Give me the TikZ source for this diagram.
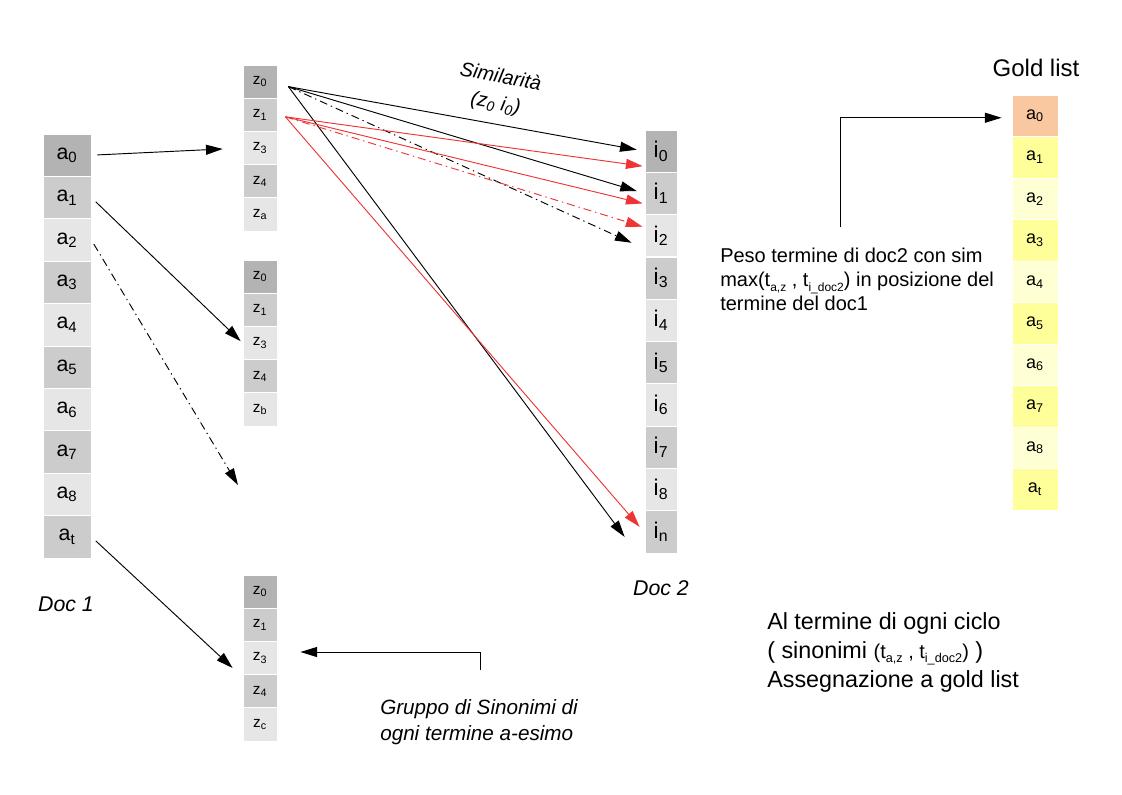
\documentclass[tikz,border=0pt]{standalone}
\usepackage{fontspec}
\setmainfont{Liberation Sans}
\usepackage{xcolor}
\usepackage{tikz}
\usetikzlibrary{arrows.meta}
\definecolor{grigioscuro}{HTML}{B3B3B3}
\definecolor{grigio}{HTML}{CCCCCC}
\definecolor{grigiochiaro}{HTML}{E6E6E6}
\definecolor{pesca}{HTML}{FAC8A0}
\definecolor{giallo}{HTML}{FFFF99}
\definecolor{giallochiaro}{HTML}{FFFFD4}
\definecolor{rosso}{HTML}{EE3535}
\newcommand{\pedice}[2]{\raisebox{-0.45ex}{\fontsize{#1}{#1}\selectfont #2}}
\tikzstyle{freccia} = [line width=0.7pt,-{Triangle[length=12.5pt,width=7.5pt]}]
\tikzstyle{tratto} = [dash pattern=on 6pt off 3pt on 1pt off 3pt]
\tikzstyle{cella} = [draw=white, line width=0.6pt, inner sep=0pt]

\begin{document}
\begin{tikzpicture}[x=0.75pt,y=-0.75pt]
          % sfondo
          \useasboundingbox [fill=white] (0,0) rectangle (1122,794);

          % doc 1
          \foreach \n/\c [count=\k from 0] in {0/grigioscuro,1/grigio,2/grigiochiaro,3/grigio,4/grigiochiaro,5/grigio,6/grigiochiaro,7/grigio,8/grigiochiaro,t/grigio}
            \node[cella, fill=\c, minimum width=36pt, minimum height=31.8pt, font=\fontsize{16}{18}\selectfont] (a\n) at (67,{155.2+42.4*\k}) {a\textsubscript{\n}};

          % doc 2
          \foreach \n/\c [count=\k from 0] in {0/grigioscuro,1/grigio,2/grigiochiaro,3/grigio,4/grigiochiaro,5/grigio,6/grigiochiaro,7/grigio,8/grigiochiaro,n/grigio}
            \node[cella, fill=\c, minimum width=24pt, minimum height=31.7pt, font=\fontsize{17}{19}\selectfont] (i\n) at (661,{151.15+42.3*\k}) {i\textsubscript{\n}};

          % gold list
          \foreach \n/\c [count=\k from 0] in {0/pesca,1/giallo,2/giallochiaro,3/giallo,4/giallochiaro,5/giallo,6/giallochiaro,7/giallo,8/giallochiaro,t/giallo}
            \node[cella, fill=\c, minimum width=34.5pt, minimum height=31.1pt, font=\fontsize{13.5}{15}\selectfont] (g\n) at (1035,{115.75+41.5*\k}) {a\textsubscript{\n}};

          % gruppi di sinonimi
          \foreach \s/\y/\u in {A/65/a,B/260/b,C/575/c}
            \foreach \n/\c [count=\k from 0] in {0/grigioscuro,1/grigio,3/grigiochiaro,4/grigio,\u/grigiochiaro}
              \node[cella, fill=\c, minimum width=25.5pt, minimum height=24.9pt, font=\fontsize{11.5}{13}\selectfont] (z\s\n) at (260,{\y+16.6+33.2*\k}) {z\textsubscript{\n}};

          % frecce doc 1
          \coordinate (vuoto) at (238,485);
          \draw[freccia, shorten <=4.5pt, shorten >=15pt] (a0.east) -- (zA3.west);
          \draw[freccia, shorten <=4.5pt, shorten >=2pt] (a1.east) -- (zB3.west);
          \draw[freccia, tratto, shorten <=3.5pt] (a2.east) -- (vuoto);
          \draw[freccia, shorten <=4.5pt] (at.east) -- ([shift={(-10,10)}]zC3.west);

          % similarita
          \coordinate (s0) at ([shift={(11,5)}]zA0.east);
          \coordinate (s1) at ([shift={(8,2)}]zA1.east);
          \draw[freccia, shorten >=6pt] (s0) -- (i0.west);
          \draw[freccia, shorten >=6pt] (s0) -- (i1.west);
          \draw[freccia, tratto] (s0) -- ([shift={(-13,7)}]i2.west);
          \draw[freccia] (s0) -- ([shift={(-20,5)}]in.west);
          \draw[freccia, rosso] (s1) -- ([shift={(-2,15)}]i0.west);
          \draw[freccia, rosso] (s1) -- ([shift={(-2,10)}]i1.west);
          \draw[freccia, rosso, tratto] (s1) -- ([shift={(-2,-9)}]i2.west);
          \draw[freccia, rosso] (s1) -- ([shift={(-5,-5)}]in.west);
          \node[rotate=-11, align=center, font=\itshape\fontsize{15}{20}\selectfont] (sim) at (498,91) {Similarità\\(z\textsubscript{0} i\textsubscript{0})};

          % testi
          \node[font=\itshape\fontsize{16}{18}\selectfont] (doc1) at (66,604) {Doc 1};
          \node[font=\itshape\fontsize{16}{18}\selectfont] (doc2) at (661,588) {Doc 2};
          \node[font=\fontsize{18}{20}\selectfont] (gold) at (1036,68) {Gold list};
          \node[anchor=north west, inner sep=0pt, align=left, font=\fontsize{15}{18}\selectfont] (peso) at (720,248)
            {Peso termine di doc2 con sim\\max(t\pedice{9}{a,z} , t\pedice{9}{i\_doc2}) in posizione del\\termine del doc1};
          \node[anchor=north west, inner sep=0pt, align=left, font=\fontsize{17.5}{21.75}\selectfont] (ciclo) at (767,612)
            {Al termine di ogni ciclo\\( sinonimi {\fontsize{15}{16}\selectfont(t\pedice{9.5}{a,z} , t\pedice{9.5}{i\_doc2})} )\\Assegnazione a gold list};
          \node[anchor=north west, inner sep=0pt, align=left, font=\itshape\fontsize{15.5}{19.5}\selectfont] (gruppo) at (380,699)
            {Gruppo di Sinonimi di\\ogni termine a-esimo};

          % richiami
          \coordinate (pp) at (840,227);
          \coordinate (gg) at (480,670);
          \draw[freccia] (pp) |- ([shift={(-10,2)}]g0.west);
          \draw[freccia] (gg) |- ([shift={(23,-6)}]zC3.east);
        \end{tikzpicture}
\end{document}
